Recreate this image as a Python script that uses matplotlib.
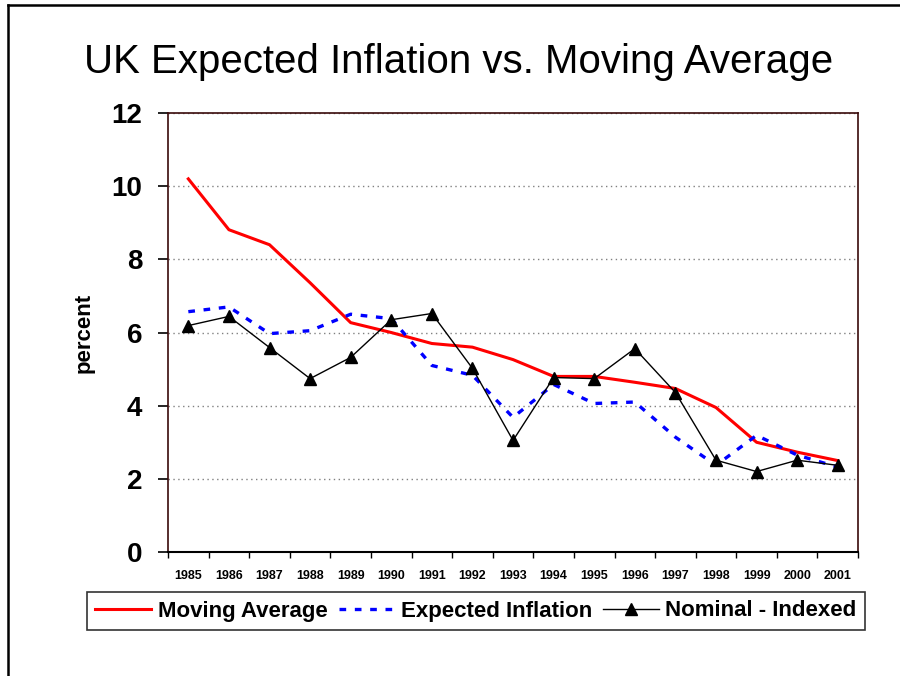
import numpy as np
import matplotlib
matplotlib.use("Agg")
import matplotlib.pyplot as plt
from matplotlib.lines import Line2D

plt.rcParams['font.family'] = ['Liberation Sans', 'DejaVu Sans']

# data
years = ['1985', '1986', '1987', '1988', '1989', '1990', '1991', '1992', '1993',
         '1994', '1995', '1996', '1997', '1998', '1999', '2000', '2001']
moving_avg = [10.2, 8.81, 8.4, 7.36, 6.27, 6.0, 5.7, 5.6, 5.26,
              4.8, 4.8, 4.64, 4.47, 3.95, 3.0, 2.73, 2.5]
expected_infl = [6.57, 6.7, 5.97, 6.05, 6.5, 6.38, 5.1, 4.83, 3.68,
                 4.58, 4.06, 4.1, 3.14, 2.37, 3.19, 2.65, 2.32]
nominal_indexed = [6.19, 6.44, 5.59, 4.74, 5.32, 6.35, 6.52, 5.02, 3.05,
                   4.77, 4.74, 5.56, 4.36, 2.51, 2.2, 2.51, 2.37]
y_ticks = [0, 2, 4, 6, 8, 10, 12]

fig = plt.figure(figsize=(9, 6.76), dpi=100)
ax = fig.add_axes([0.1867, 0.1834, 0.7667, 0.6494])

x = np.arange(len(years))
ax.plot(x, moving_avg, color='#ff0000', lw=2.2, label='Moving Average')
ax.plot(x, expected_infl, color='#0000ff', lw=2.4, ls=(0, (2.0, 2.6)), label='Expected Inflation')
ax.plot(x, nominal_indexed, color='black', lw=1.0, marker='^', ms=8, label='Nominal - Indexed')

ax.set_xlim(-0.5, len(years) - 0.5)
ax.set_ylim(0, 12)
ax.set_yticks(y_ticks)
ax.set_yticklabels([str(v) for v in y_ticks], fontsize=20, fontweight='bold')
ax.tick_params(axis='y', length=7.5, width=1.2, pad=11)

# category labels at centres, ticks at the boundaries
ax.set_xticks(x)
ax.set_xticklabels(years, fontsize=9, fontweight='bold')
ax.set_xticks(np.arange(len(years) + 1) - 0.5, minor=True)
ax.tick_params(axis='x', which='major', length=0, pad=13)
ax.tick_params(axis='x', which='minor', length=4.5, width=1.0)

for v in y_ticks[1:]:
    ax.axhline(v, color='#808080', lw=1.0, ls=(0, (1, 2.5)), zorder=0)

for s in ['left', 'right', 'top']:
    ax.spines[s].set_color('#3a0a0a')
    ax.spines[s].set_linewidth(1.2)
ax.spines['bottom'].set_color('black')
ax.spines['bottom'].set_linewidth(1.5)

ax.set_ylabel('percent', fontsize=16, fontweight='bold', labelpad=12)

fig.text(459 / 900, 1 - 62 / 676, 'UK Expected Inflation vs. Moving Average',
         fontsize=29, ha='center', va='center')

leg = ax.legend(loc='center', bbox_to_anchor=(476 / 900, 1 - 611 / 676),
                bbox_transform=fig.transFigure, ncol=3,
                prop={'weight': 'bold', 'size': 16}, frameon=True, fancybox=False,
                handlelength=2.5, handletextpad=0.3, columnspacing=0.5,
                borderpad=0.4, borderaxespad=0)
leg.get_frame().set_edgecolor('black')
leg.get_frame().set_linewidth(1.2)

# slide border lines (top and left)
fig.add_artist(Line2D([8 / 900, 1.0], [1 - 5 / 676, 1 - 5 / 676], color='black', lw=1.8,
                      transform=fig.transFigure))
fig.add_artist(Line2D([8 / 900, 8 / 900], [0, 1 - 5 / 676], color='black', lw=1.8,
                      transform=fig.transFigure))

fig.savefig('out.png', dpi=100, facecolor='white')
